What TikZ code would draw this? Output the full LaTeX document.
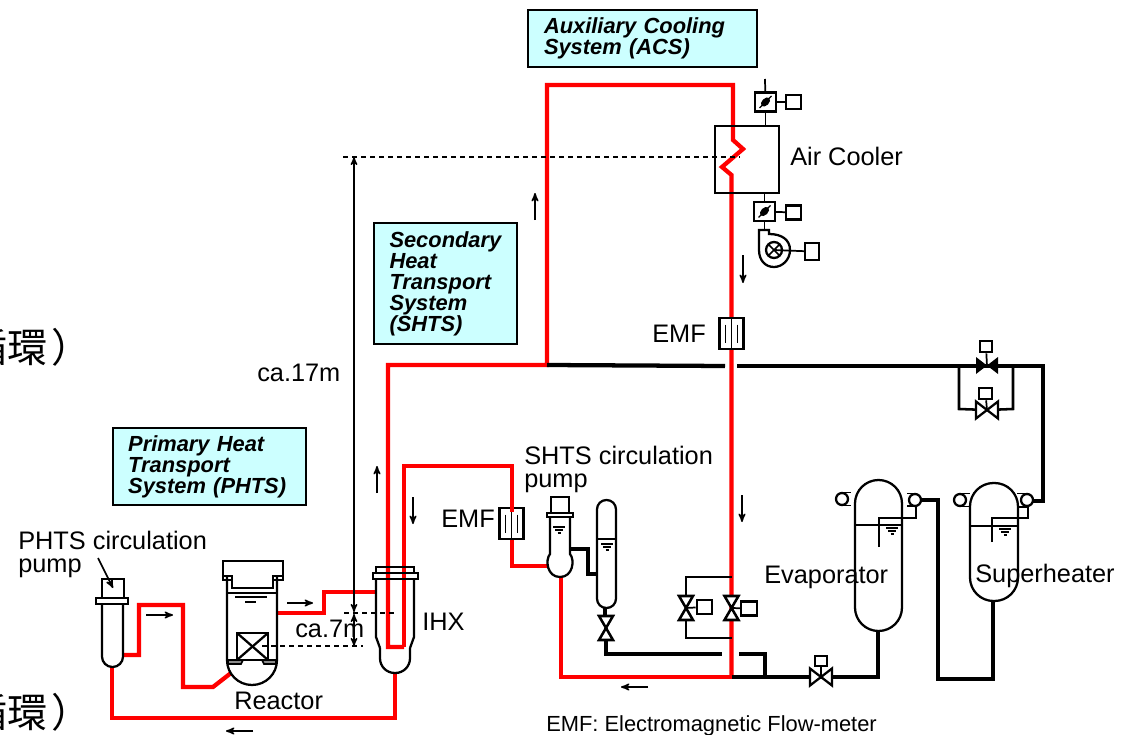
\documentclass[tikz,border=0pt]{standalone}
\usepackage{fontspec}
\setmainfont{Liberation Sans}
\newfontfamily\cjkfont{Noto Sans CJK JP}
\usepackage{xcolor}
\usepackage{tikz}
\usetikzlibrary{arrows, positioning, shapes}
\definecolor{boxcyan}{RGB}{204, 255, 255}
\definecolor{pipered}{RGB}{255, 0, 0}

\begin{document}
\begin{tikzpicture}[
    x=0.75pt, y=-0.75pt,
    redpipe/.style={draw=pipered, line width=3.2pt},
    thinred/.style={draw=pipered, line width=2.3pt},
    blackpipe/.style={draw=black, line width=3.2pt},
    midpipe/.style={draw=black, line width=2.4pt},
    bypasspipe/.style={draw=black, line width=1.9pt},
    vessel/.style={draw=black, line width=1.7pt},
    thinline/.style={draw=black, line width=1.3pt},
    dashline/.style={draw=black, line width=1pt, dash pattern=on 3.75pt off 3pt},
    flowarrow/.style={-{stealth'}, line width=1.2pt},
    dimarrow/.style={{stealth'}-{stealth'}, line width=1.1pt},
    lbl/.style={anchor=base west, inner sep=0pt, font=\fontsize{19}{21.5}\selectfont, align=left},
    infobox/.style={rectangle, draw, line width=0.9pt, fill=boxcyan, align=left, inner sep=0pt,
        font=\fontsize{16.4}{15.75}\selectfont\bfseries\itshape},
    sigbox/.style={rectangle, vessel, fill=white, inner sep=0pt, minimum width=11pt, minimum height=10.5pt},
    damper/.style={rectangle, draw, line width=1.8pt, fill=white, inner sep=0pt, minimum width=15.5pt, minimum height=14.5pt},
    pics/blade/.style={code={
        \draw[line width=1pt] (-6,6) -- (6,-6);
        \fill[rotate=45] (0,0) ellipse (5.5 and 3.5);
    }},
    pics/levelmark/.style={code={
        \draw[line width=1.1pt] (-6,0) -- (6,0);
        \draw[line width=1.1pt] (-4,3) -- (4,3);
        \draw[line width=1.1pt] (-1.5,6) -- (1.5,6);
    }},
    pics/valveh/.style={code={
        \draw[vessel, fill=white] (-11,-8.5) -- (11,8.5) -- (11,-8.5) -- (-11,8.5) -- cycle;
    }},
    pics/valvev/.style={code={
        \draw[vessel, line width=1.9pt, fill=white] (-7,-12) -- (7,-12) -- (-7,12) -- (7,12) -- cycle;
    }},
    pics/emfmeter/.style={code={
        \draw[vessel, fill=white] (-12,-15.5) rectangle (12,15.5);
        \draw[thinline] (0,-15.5) -- (0,15.5);
        \draw[thinline] (-6,-9) -- (-6,9);
        \draw[thinline] (6,-9) -- (6,9);
    }}
]
    \useasboundingbox (0,0) rectangle (1133,735);

    % Cut off text at the left edge
    \node[anchor=east, inner sep=0pt, font=\fontsize{30}{32}\selectfont\cjkfont] (cuttop) at (92,347) {循環\kern3pt）};
    \node[anchor=east, inner sep=0pt, font=\fontsize{30}{32}\selectfont\cjkfont] (cutbottom) at (92,712) {循環\kern3pt）};

    % Info boxes
    \node[infobox, minimum width=171.75pt, minimum height=42.75pt, text width=147.75pt] (acsbox) at (642.5,38.5) {Auxiliary Cooling\\System (ACS)};
    \node[infobox, minimum width=107.25pt, minimum height=90.75pt, text width=84pt] (shtsbox) at (445.5,283.5) {Secondary\\Heat\\Transport\\System\\(SHTS)};
    \node[infobox, minimum width=144.75pt, minimum height=57.75pt, text width=122pt] (phtsbox) at (209.5,466.5) {Primary Heat\\Transport\\System (PHTS)};

    % Pipe ports
    \coordinate (pumpside) at (123,655);
    \coordinate (pumpbot) at (112,667);
    \coordinate (reactorin) at (231,673);
    \coordinate (reactorout) at (277,613);
    \coordinate (ihxin) at (375,592);
    \coordinate (ihxbot) at (395,673);
    \coordinate (ihxleft) at (388,647);
    \coordinate (ihxright) at (404,647);
    \coordinate (emflow) at (512,512);
    \coordinate (bulbside) at (548,566);
    \coordinate (bulbbot) at (561,577);
    \coordinate (redtee) at (547,365);
    \coordinate (redfoot) at (731.5,677);
    \coordinate (tankport) at (569,549);
    \coordinate (tankin) at (597,574);
    \coordinate (drainvalve) at (606,628);
    \coordinate (evapbot) at (878,631);
    \coordinate (evapout) at (922,500);
    \coordinate (superbot) at (993,601);
    \coordinate (superout) at (1032,501);
    \coordinate (stopvalve) at (987,366);
    \coordinate (bypassvalve) at (987,410);
    \coordinate (feedvalve) at (821,677);
    \coordinate (leftvalve) at (686,608);
    \coordinate (rightvalve) at (731.5,608);

    % Primary loop
    \draw[redpipe] (pumpside) -- ++(16,0) -- ++(0,-50) -- ++(44,0) -- ++(0,82) -- ++(30,0) -- (reactorin);
    \draw[redpipe] (reactorout) -- ++(47,0) -- ++(0,-21) -- (ihxin);
    \draw[redpipe] (pumpbot) -- ++(0,51) -- ++(283,0) -- (ihxbot);

    % Secondary loop
    \draw[redpipe] (ihxright) -- (ihxleft) -- (388,365) -- (redtee) -- (547,85) -- (733,85) -- (733,140) -- (743,149) -- (722,167) -- (731.5,175) -- (redfoot);
    \draw[redpipe] (ihxright) -- (404,466) -- (512,466) -- (emflow);
    \draw[redpipe] (512,539) -- (512,566) -- (bulbside);
    \draw[thinred] (bulbbot) -- (561,677) -- (redfoot);

    % Black pipes
    \draw[blackpipe] (redtee) -- (725,366);
    \draw[blackpipe] (737,366) -- (1043,366) -- (1043,501) -- (superout);
    \draw[bypasspipe] (959,366) -- (959,409) -- (bypassvalve) -- (1013,409) -- (1013,366);
    \draw[midpipe] (tankport) -- (588,549) -- (588,574) -- (tankin);
    \draw[blackpipe] (drainvalve) -- (606,654) -- (722,654);
    \draw[blackpipe] (739,654) -- (765,654) -- (765,677);
    \draw[blackpipe] (redfoot) -- (feedvalve) -- (878,677) -- (evapbot);
    \draw[blackpipe] (evapout) -- (938,500) -- (938,679) -- (993,679) -- (superbot);
    \draw[bypasspipe] (686,596) -- (686,577) -- (731.5,577);
    \draw[bypasspipe] (leftvalve) -- (686,638) -- (731.5,638);

    % Dashed levels and heights
    \draw[dashline] (343,157) -- (740,157);
    \draw[dashline] (344,613) -- (397,613);
    \draw[dashline] (262,646) -- (363,646);
    \draw[dimarrow] (354,157) -- (354,612);
    \draw[dimarrow] (354,614) -- (354,646);

    % PHTS pump
    \draw[vessel, rounded corners=7.8pt] (102,604) -- (102,667) -- (123,667) -- (123,604);
    \draw[vessel, fill=white] (102,579) rectangle (124,598);
    \draw[vessel, fill=white] (96,598) rectangle (128,604);
    \draw[flowarrow] (98,558) -- (113,588);

    % Reactor
    \draw[vessel, rounded corners=18.7pt] (227,577) -- (227,685) -- (277,685) -- (277,577);
    \draw[vessel, fill=white] (223,561) -- (283,561) -- (283,576) -- (273,576) -- (273,588) -- (232,588) -- (232,576) -- (223,576) -- cycle;
    \draw[vessel] (223,576) -- (223,580) -- (232,580);
    \draw[vessel] (283,576) -- (283,580) -- (273,580);
    \draw[thinline] (227,593) -- (277,593);
    \draw[line width=1.4pt] (235,597) -- (267,597);
    \draw[line width=1.4pt] (245,602) -- (256,602);
    \draw[vessel] (228,660) -- (276,660);
    \draw[vessel] (237,633) rectangle (268,660);
    \draw[vessel] (237,633) -- (268,660);
    \draw[vessel] (237,660) -- (268,633);
    \draw[thinline, fill=black!45] (228,660) -- (243,660) -- (241,664) -- (228,664) -- cycle;
    \draw[thinline, fill=black!45] (276,660) -- (262,660) -- (264,664) -- (276,664) -- cycle;

    % IHX
    \draw[vessel] (376,579) -- (376,637) -- (380,648);
    \draw[vessel] (414,579) -- (414,637) -- (410,648);
    \draw[vessel, rounded corners=11pt] (380,648) -- (380,673) -- (410,673) -- (410,648);
    \draw[vessel] (376,567) rectangle (414,573);
    \draw[vessel] (373,573) rectangle (418,579);

    % SHTS pump and overflow tank
    \draw[vessel] (550,517) -- (550,554) .. controls (545,560) and (547,577) .. (560,577) .. controls (573,577) and (575,560) .. (570,554) -- (570,517);
    \draw[vessel, fill=white] (551,497) rectangle (569,513);
    \draw[vessel, fill=white] (547,513) rectangle (573,517);
    \pic at (559,527) {levelmark};
    \draw[vessel, fill=white, rounded corners=7pt] (597,500) rectangle (616,608);
    \draw[thinline] (597,539) -- (616,539);
    \pic at (607,544) {levelmark};
    \draw[midpipe] (605,608) -- (605,617);
    \pic at (drainvalve) {valvev};

    % Air cooler
    \node[rectangle, vessel, minimum width=48pt, minimum height=50pt, inner sep=0pt] (cooler) at (747,159.5) {};
    \coordinate (ventline) at (765,79);
    \node[damper] (damperup) at (765.5,102) {};
    \node[damper] (damperlow) at (764.5,211.5) {};
    \node[sigbox] (boxup) at (793.5,102) {};
    \node[sigbox] (boxlow) at (793.5,212.5) {};
    \draw[thinline] (ventline) -- (damperup);
    \draw[thinline] (damperup) -- (damperup |- cooler.north);
    \draw[thinline] (damperlow |- cooler.south) -- (damperlow);
    \draw[thinline] (damperup) -- (boxup);
    \draw[thinline] (damperlow) -- (boxlow);
    \pic at (damperup) {blade};
    \pic at (damperlow) {blade};

    % Fan
    \coordinate (fanhub) at (774,250);
    \node[sigbox, minimum height=12.75pt, minimum width=10.5pt] (fanbox) at (812,251.5) {};
    \draw[thinline] (damperlow) -- (764.5,230);
    \draw[vessel] (759,230) -- (769,230) -- (769,234) .. controls (782,234) and (790,240) .. (790,250) .. controls (790,260) and (782,267) .. (774,267) .. controls (765,267) and (759,260) .. (759,250) -- cycle;
    \draw[vessel] (fanhub) circle (8);
    \draw[thinline] (768.5,244.5) -- (779.5,255.5);
    \draw[thinline] (768.5,255.5) -- (779.5,244.5);
    \draw[thinline] (fanhub) -- (fanbox);

    % Flow meters and valves on top of the pipes
    \pic at (731.5,333.5) {emfmeter};
    \pic at (511.5,523.5) {emfmeter};
    \draw[redpipe] (512,505) -- (emflow);
    \pic at (leftvalve) {valvev};
    \pic at (rightvalve) {valvev};
    \node[sigbox, minimum width=11.5pt] (leftbox) at (704.5,607) {};
    \node[sigbox, minimum width=11.5pt] (rightbox) at (749,608.5) {};
    \draw[thinline] (leftvalve) -- (leftbox);
    \draw[thinline] (rightvalve) -- (rightbox);
    \pic at (feedvalve) {valveh};
    \node[sigbox, minimum width=8.5pt, minimum height=7.5pt] (feedbox) at (821,661) {};
    \draw[thinline] (feedvalve) -- (feedbox);
    \node[sigbox, minimum width=9.5pt, minimum height=8.5pt] (stopbox) at (986,346.5) {};
    \draw[thinline] (stopvalve) -- (stopbox);
    \fill (976,357) -- (998,374) -- (998,357) -- (976,374) -- cycle;
    \pic at (bypassvalve) {valveh};
    \node[sigbox, minimum width=9.5pt, minimum height=8.5pt] (bypassbox) at (985.5,393.5) {};
    \draw[thinline] (bypassvalve) -- (bypassbox);

    % Evaporator
    \draw[vessel, rounded corners=17.6pt] (855,480) rectangle (902,631);
    \draw[thinline] (855,525) -- (902,525);
    \draw[thinline] (879,547) -- (879,518) -- (916,518) -- (916,506);
    \pic at (892,528) {levelmark};
    \draw[vessel, fill=white] (915,500) circle (6);
    \draw[thinline] (907,493.5) -- (915,493.5);
    \draw[thinline] (907,506) -- (915,506);
    \draw[vessel] (842,499) circle (6);
    \draw[thinline] (843,492.5) -- (851,492.5);
    \draw[thinline] (843,505.5) -- (851,505.5);

    % Superheater
    \draw[vessel, rounded corners=17.6pt] (970,483) rectangle (1018,601);
    \draw[thinline] (970,526) -- (1018,526);
    \draw[thinline] (992,542) -- (992,518) -- (1028,518) -- (1028,507);
    \pic at (1005,529) {levelmark};
    \draw[thinline] (1017,493.5) -- (1027,493.5);
    \draw[thinline] (1017,507) -- (1027,507);
    \draw[vessel, fill=white] (1027,500) circle (6);
    \draw[vessel] (960,500) circle (6);
    \draw[thinline] (961,493.5) -- (970,493.5);
    \draw[thinline] (961,506.5) -- (970,506.5);

    % Flow arrows
    \draw[flowarrow] (146,615) -- (173,615);
    \draw[flowarrow] (287,603) -- (313,603);
    \draw[flowarrow] (253,731) -- (226,731);
    \draw[flowarrow] (377,493) -- (377,466);
    \draw[flowarrow] (413,497) -- (413,524);
    \draw[flowarrow] (535,220) -- (535,193);
    \draw[flowarrow] (743,255) -- (743,283);
    \draw[flowarrow] (742,495) -- (742,522);
    \draw[flowarrow] (648,687) -- (621,687);

    % Labels
    \node[lbl] (lblphts) at (18,572) {PHTS circulation\\[-4.25pt]pump};
    \node[lbl] (lblreactor) at (234,709) {Reactor};
    \node[lbl] (lblseven) at (295,637) {ca.7m};
    \node[lbl] (lblihx) at (422,630) {IHX};
    \node[lbl] (lblseventeen) at (257,381) {ca.17m};
    \node[lbl] (lblemfa) at (441,527) {EMF};
    \node[lbl] (lblemfb) at (652,342) {EMF};
    \node[lbl] (lblshts) at (524,487) {SHTS circulation\\[-4.25pt]pump};
    \node[lbl] (lblcooler) at (790,166) {Air Cooler};
    \node[lbl] (lblevap) at (764,583) {Evaporator};
    \node[lbl] (lblsuper) at (975,582) {Superheater};
    \node[lbl, font=\fontsize{16.4}{18}\selectfont] (lblnote) at (546,731) {EMF: Electromagnetic Flow-meter};
\end{tikzpicture}
\end{document}
